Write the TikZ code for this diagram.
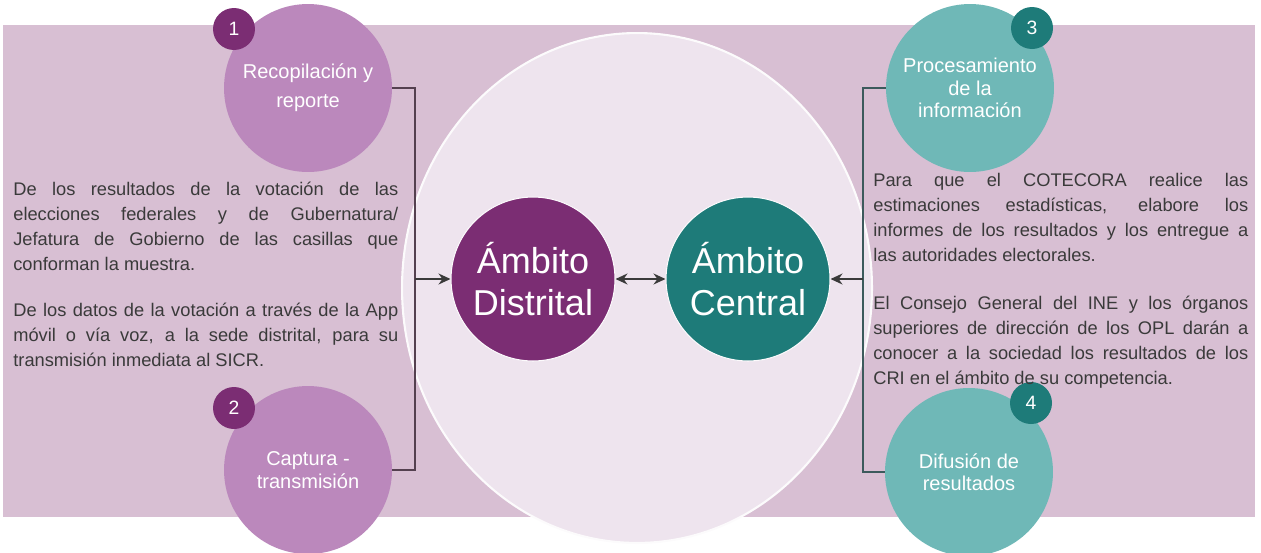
\documentclass[tikz,border=0pt]{standalone}
\usepackage{fontspec}
\setmainfont{Liberation Sans}
\usetikzlibrary{arrows.meta,positioning}
\definecolor{bandpink}{HTML}{D8BFD3}
\definecolor{hallo}{HTML}{EEE4EE}
\definecolor{lightplum}{HTML}{BB88BC}
\definecolor{darkplum}{HTML}{7B2D73}
\definecolor{darkteal}{HTML}{1E7B79}
\definecolor{lightteal}{HTML}{6FB8B7}
\definecolor{notegray}{HTML}{3A3A3A}
\definecolor{plumline}{HTML}{54404F}
\definecolor{tealline}{HTML}{3C5A5C}

\begin{document}
\begin{tikzpicture}[
  x=0.02cm, y=-0.02cm,
  >={Stealth[length=2.4mm,width=2.2mm]},
  stage/.style={circle, minimum size=3.36cm, inner sep=0pt, align=center, text=white, font=\fontsize{11.4}{12.8}\selectfont},
  hub/.style={circle, minimum size=3.28cm, inner sep=0pt, align=center, text=white, draw=white!80!hallo, line width=0.6pt, font=\fontsize{20.5}{24}\selectfont},
  badge/.style={circle, minimum size=0.84cm, inner sep=0pt, text=white, font=\fontsize{11}{13}\selectfont},
  note/.style={anchor=north west, inner sep=0pt, align=justify, text=notegray, font=\fontsize{10.4}{14.2}\selectfont,
    execute at begin node={\parindent=0pt\tolerance=10000\hbadness=10000}},
  bracket/.style={line width=0.9pt},
  link/.style={->, line width=0.9pt, draw=notegray}
]
\useasboundingbox (0,0) rectangle (1261,552);

% background band and halo
\fill[bandpink] (3,25) rectangle (1255,517);
\fill[hallo, draw=white!85!hallo, line width=1.2pt] (637,288) ellipse [x radius=4.7cm, y radius=5.1cm];

% stage circles
\node[stage, fill=lightplum, font=\fontsize{11.4}{16.5}\selectfont] (rec) at (308,88) {Recopilación y\\reporte};
\node[stage, fill=lightplum] (cap) at (308,470) {Captura -\\transmisión};
\node[stage, fill=lightteal] (proc) at (970,88) {Procesamiento\\de la\\información};
\node[stage, fill=lightteal] (dif) at (969,472) {Difusión de\\resultados};

% number badges
\node[badge, fill=darkplum] (n1) at (234,29) {1};
\node[badge, fill=darkplum] (n2) at (234,408) {2};
\node[badge, fill=darkteal] (n3) at (1032,28) {3};
\node[badge, fill=darkteal] (n4) at (1031,403) {4};

% hubs
\node[hub, fill=darkplum] (dist) at (533,279) {Ámbito\\Distrital};
\node[hub, fill=darkteal, right=1cm of dist] (cent) {Ámbito\\Central};

% brackets and arrows
\coordinate (jd) at (415,279);
\coordinate (jc) at (863,279);
\draw[bracket, draw=plumline] (rec.east) -| (jd) |- (cap.east);
\draw[bracket, draw=tealline] (proc.west) -| (jc) |- (dif.west);
\draw[link] (jd) -- (dist.west);
\draw[link] (jc) -- (cent.east);
\draw[link, <->] (dist.east) -- (cent.west);

% notes
\node[note, text width=7.7cm] (txtdist) at (13,182) {De los resultados de la votación de las\linebreak
elecciones federales y de Gubernatura/\linebreak
Jefatura de Gobierno de las casillas que\linebreak
conforman la muestra.\par\vspace{12pt}
De los datos de la votación a través de la App\linebreak
móvil o vía voz, a la sede distrital, para su\linebreak
transmisión inmediata al SICR.};
\node[note, text width=7.5cm] (txtcent) at (873,173) {Para que el COTECORA realice las\linebreak
estimaciones estadísticas, elabore los\linebreak
informes de los resultados y los entregue a\linebreak
las autoridades electorales.\par\vspace{13pt}
El Consejo General del INE y los órganos\linebreak
superiores de dirección de los OPL darán a\linebreak
conocer a la sociedad los resultados de los\linebreak
CRI en el ámbito de su competencia.};
\end{tikzpicture}
\end{document}
